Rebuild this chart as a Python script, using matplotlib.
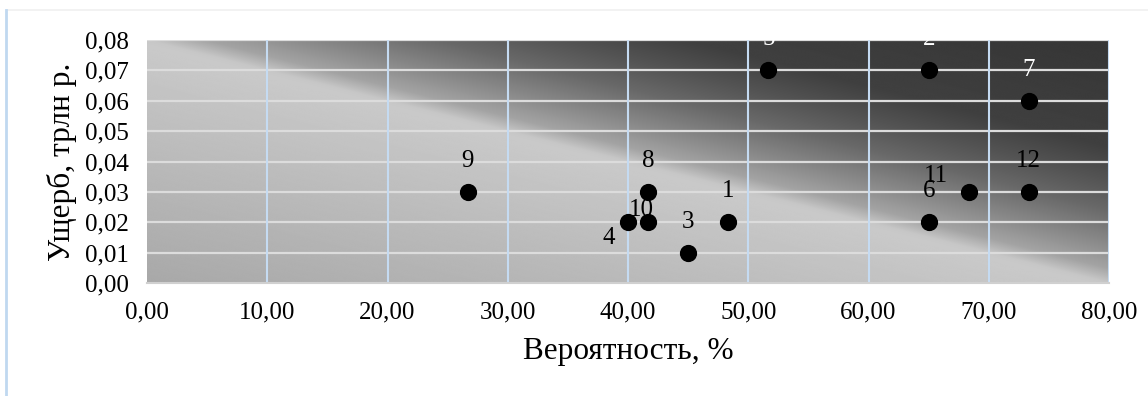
#!/usr/bin/env python3
'''
Risk map: probability vs damage for 12 risks
'''
import numpy as np
from matplotlib import pyplot as plt
from matplotlib.lines import Line2D
from matplotlib.ticker import FuncFormatter


FIG_W_PX = 1148
FIG_H_PX = 396
DPI = 100

risk_ids = ['1', '2', '3', '4', '5', '6', '7', '8', '9', '10', '11', '12']
probability = [48.33, 65.0, 45.0, 40.0, 51.67, 65.0, 73.33, 41.67, 26.67, 41.67, 68.33, 73.33]
damage = [0.02, 0.07, 0.01, 0.02, 0.07, 0.02, 0.06, 0.03, 0.03, 0.02, 0.03, 0.03]

# label offsets in pixels (dx, dy) and text colour for each risk
label_offsets = {'4': (-19, -16), '10': (-7, 12), '11': (-33, 16)}
light_labels = {'2', '5', '7'}

plt.rcParams['font.family'] = ['Liberation Serif', 'DejaVu Serif']

fig = plt.figure(figsize=(FIG_W_PX / DPI, FIG_H_PX / DPI), dpi=DPI)
ax = fig.add_axes([147 / FIG_W_PX, 1 - 283 / FIG_H_PX,
                   (1109 - 147) / FIG_W_PX, (283 - 40) / FIG_H_PX])

x_min, x_max = 0, 80
y_min, y_max = 0, 0.08

# diagonal grey gradient: light band from top-left to bottom-right corner,
# slowly darker below it, quickly dark above it
n = 500
u, v = np.meshgrid(np.linspace(0, 1, n), np.linspace(0, 1, n))
t = (u + v) / 2
stops_t = [0.0, 0.49, 0.5, 0.53, 0.58, 0.65, 0.71, 0.78, 1.0]
stops_c = [0.66, 0.79, 0.78, 0.64, 0.54, 0.41, 0.33, 0.25, 0.21]
shade = np.interp(t, stops_t, stops_c)
ax.imshow(shade, cmap='gray', vmin=0, vmax=1, origin='lower', aspect='auto',
          extent=[x_min, x_max, y_min, y_max], zorder=0, interpolation='bilinear')

ax.set_xlim(x_min, x_max)
ax.set_ylim(y_min, y_max)
ax.set_xticks(np.arange(0, 81, 10))
ax.set_yticks(np.arange(0, 0.081, 0.01))
ax.xaxis.set_major_formatter(FuncFormatter(lambda val, pos: f'{val:.2f}'.replace('.', ',')))
ax.yaxis.set_major_formatter(FuncFormatter(lambda val, pos: f'{val:.2f}'.replace('.', ',')))

for yv in np.arange(0.01, 0.081, 0.01):
  ax.axhline(yv, color='#dcdcdc', linewidth=1.6, zorder=1)
for xv in np.arange(10, 81, 10):
  ax.axvline(xv, color='#c5dbf2', linewidth=1.5, zorder=1)

ax.scatter(probability, damage, s=130, color='black', zorder=3, clip_on=False)

for rid, px, py in zip(risk_ids, probability, damage):
  dx, dy = label_offsets.get(rid, (0, 31))
  color = 'white' if rid in light_labels else 'black'
  ax.annotate(rid, (px, py), xytext=(dx, dy), textcoords='offset pixels',
              ha='center', va='center', fontsize=18, color=color,
              annotation_clip=False, clip_on=True, zorder=4)

for side in ['top', 'right', 'left']:
  ax.spines[side].set_visible(False)
ax.spines['bottom'].set_color('#d0d0d0')
ax.spines['bottom'].set_linewidth(1.5)
ax.tick_params(length=0, labelsize=18, colors='black')
ax.tick_params(axis='x', pad=13)
ax.tick_params(axis='y', pad=13)

ax.set_xlabel('Вероятность, %', fontsize=22.5, labelpad=10)
ax.set_ylabel('Ущерб, трлн р.', fontsize=22.5, labelpad=6)

# chart frame lines
fig.add_artist(Line2D([7 / FIG_W_PX, 1], [1 - 10 / FIG_H_PX, 1 - 10 / FIG_H_PX],
                      color='#f0f0f0', linewidth=1.2))
fig.add_artist(Line2D([6 / FIG_W_PX, 6 / FIG_W_PX], [0, 1 - 10 / FIG_H_PX],
                      color='#c0d8f0', linewidth=2))

fig.savefig('out.png', dpi=DPI)
